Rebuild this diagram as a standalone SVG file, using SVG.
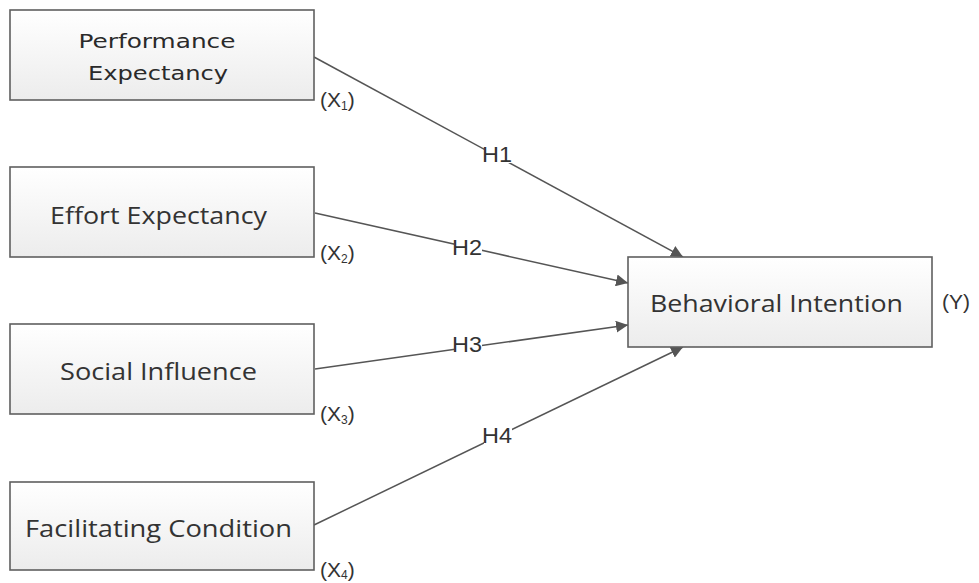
<svg xmlns="http://www.w3.org/2000/svg" width="979" height="583" viewBox="0 0 979 583">
<style>
.box{fill:url(#g);stroke:#5f5f5f;stroke-width:1.6}
.t{font-family:"Open Sans","Noto Sans",sans-serif;font-size:24px;fill:#333}
.tp{font-family:"DejaVu Sans","Noto Sans",sans-serif;font-size:20px;fill:#2a2a2a}
.h{font-family:"Liberation Sans",Arial,sans-serif;font-size:22px;fill:#333}
.x{font-family:"Liberation Sans",Arial,sans-serif;font-size:21px;fill:#333}
.sub{font-size:12px}
.e{stroke:#555;stroke-width:1.5;fill:none;marker-end:url(#a)}
.bg{fill:#fff}
</style>
<defs>
<linearGradient id="g" x1="0" y1="0" x2="0" y2="1">
<stop offset="0" stop-color="#ffffff"/>
<stop offset="1" stop-color="#ececec"/>
</linearGradient>
<marker id="a" viewBox="0 0 12 12" refX="12" refY="6" markerWidth="12" markerHeight="12" markerUnits="userSpaceOnUse" orient="auto">
<path d="M0,0 L12,6 L0,12 z" fill="#555"/>
</marker>
</defs>
<rect width="979" height="583" fill="#fff"/>
<g id="connectors">
<line class="e" x1="314" y1="57" x2="683" y2="257"/>
<line class="e" x1="315" y1="213" x2="628" y2="283"/>
<line class="e" x1="315" y1="369" x2="628" y2="325"/>
<line class="e" x1="314" y1="525" x2="683" y2="347"/>
<rect class="bg" x="484" y="145" width="28" height="18"/>
<text class="h" x="482" y="162" textLength="30" lengthAdjust="spacingAndGlyphs">H1</text>
<rect class="bg" x="454" y="238" width="28" height="18"/>
<text class="h" x="452" y="255" textLength="30" lengthAdjust="spacingAndGlyphs">H2</text>
<rect class="bg" x="454" y="335" width="28" height="18"/>
<text class="h" x="452" y="352" textLength="30" lengthAdjust="spacingAndGlyphs">H3</text>
<rect class="bg" x="484" y="426" width="28" height="18"/>
<text class="h" x="482" y="443" textLength="30" lengthAdjust="spacingAndGlyphs">H4</text>
</g>
<g id="performance">
<rect class="box" x="10" y="10" width="304" height="90"/>
<text class="tp" x="157" y="48" text-anchor="middle" textLength="157" lengthAdjust="spacingAndGlyphs">Performance</text>
<text class="tp" x="158" y="80" text-anchor="middle" textLength="140" lengthAdjust="spacingAndGlyphs">Expectancy</text>
<text class="x" x="320" y="107">(X<tspan class="sub" dy="3">1</tspan><tspan dy="-3">)</tspan></text>
</g>
<g id="effort">
<rect class="box" x="10" y="167" width="304" height="90"/>
<text class="t" x="50" y="224" textLength="217" lengthAdjust="spacingAndGlyphs">Effort Expectancy</text>
<text class="x" x="320" y="260">(X<tspan class="sub" dy="3">2</tspan><tspan dy="-3">)</tspan></text>
</g>
<g id="social">
<rect class="box" x="10" y="324" width="304" height="90"/>
<text class="t" x="60" y="380" textLength="197" lengthAdjust="spacingAndGlyphs">Social Influence</text>
<text class="x" x="320" y="421">(X<tspan class="sub" dy="3">3</tspan><tspan dy="-3">)</tspan></text>
</g>
<g id="facilitating">
<rect class="box" x="10" y="482" width="304" height="88"/>
<text class="t" x="25" y="537" textLength="267" lengthAdjust="spacingAndGlyphs">Facilitating Condition</text>
<text class="x" x="320" y="577">(X<tspan class="sub" dy="2">4</tspan><tspan dy="-2">)</tspan></text>
</g>
<g id="behavioral">
<rect class="box" x="628" y="257" width="304" height="90"/>
<text class="t" x="650" y="312" textLength="253" lengthAdjust="spacingAndGlyphs">Behavioral Intention</text>
<text class="x" x="942" y="309">(Y)</text>
</g>
</svg>
